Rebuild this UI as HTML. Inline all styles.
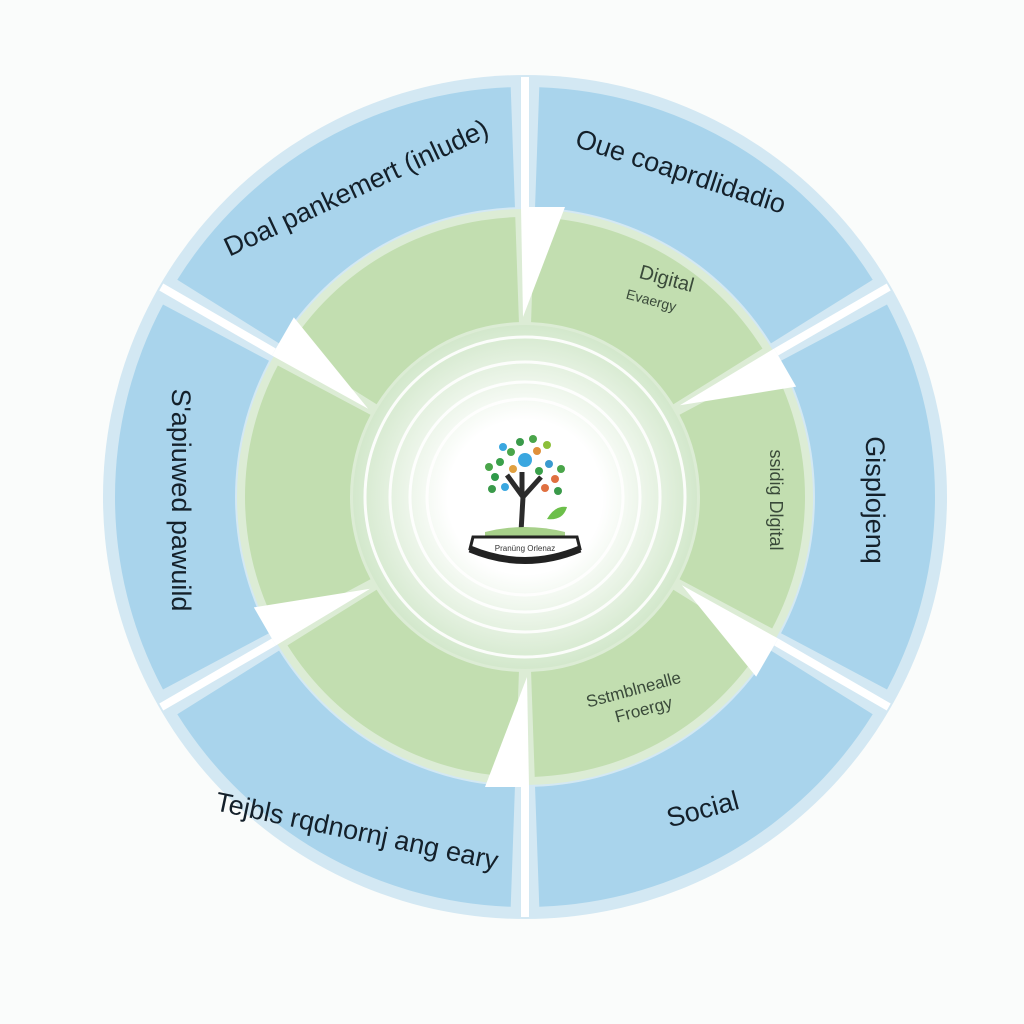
<!DOCTYPE html>
<html><head><meta charset="utf-8"><style>body{margin:0;background:#fff}svg{display:block}</style></head>
<body>
<svg width="1024" height="1024" viewBox="0 0 1024 1024" xmlns="http://www.w3.org/2000/svg" font-family="Liberation Sans, sans-serif">
<defs>
<path id="bs" d="M256 -136.2 L362 -192.5 A410 410 0 0 1 362 192.5 L256 136.2 A290 290 0 0 0 256 -136.2 Z"/>
<path id="gs" d="M154.5 -82.2 L247.2 -131.5 A280 280 0 0 1 247.2 131.5 L154.5 82.2 A175 175 0 0 0 154.5 -82.2 Z"/>
<polygon id="ar" points="290,-4 290,40 180,-2"/>
<radialGradient id="cg"><stop offset="0.45" stop-color="#fff"/><stop offset="1" stop-color="#d3e8cc"/></radialGradient>
</defs>
<rect width="1024" height="1024" fill="#fafcfb"/>
<g transform="translate(525,497)">
<circle r="422" fill="#d3e8f3"/>
<circle r="288" fill="#dcecd5"/>
<g fill="#a9d4ec">
<use href="#bs" transform="rotate(0)"/><use href="#bs" transform="rotate(60)"/><use href="#bs" transform="rotate(120)"/>
<use href="#bs" transform="rotate(180)"/><use href="#bs" transform="rotate(240)"/><use href="#bs" transform="rotate(300)"/>
</g>
<g fill="#c2deb0">
<use href="#gs" transform="rotate(0)"/><use href="#gs" transform="rotate(60)"/><use href="#gs" transform="rotate(120)"/>
<use href="#gs" transform="rotate(180)"/><use href="#gs" transform="rotate(240)"/><use href="#gs" transform="rotate(300)"/>
</g>
<g stroke="#fff" stroke-width="8">
<line x1="0" y1="-420" x2="0" y2="-290" transform="rotate(0)"/><line x1="0" y1="-420" x2="0" y2="-290" transform="rotate(60)"/>
<line x1="0" y1="-420" x2="0" y2="-290" transform="rotate(120)"/><line x1="0" y1="-420" x2="0" y2="-290" transform="rotate(180)"/>
<line x1="0" y1="-420" x2="0" y2="-290" transform="rotate(240)"/><line x1="0" y1="-420" x2="0" y2="-290" transform="rotate(300)"/>
</g>
<g fill="#fff">
<use href="#ar" transform="rotate(-90)"/><use href="#ar" transform="rotate(-30)"/><use href="#ar" transform="rotate(30)"/>
<use href="#ar" transform="rotate(90)"/><use href="#ar" transform="rotate(150)"/><use href="#ar" transform="rotate(210)"/>
</g>
<circle r="172" fill="url(#cg)"/>
<g fill="none" stroke="#fff" stroke-width="3" opacity="0.9">
<circle r="160"/><circle r="135"/><circle r="115"/><circle r="98"/>
</g>
<circle r="78" fill="#fff"/>
<path d="M-4 35 L-2 0 L-18 -22 M-2 0 L16 -20 M-3 -2 L-3 -25" stroke="#2b2b2b" stroke-width="5" fill="none"/>
<g>
<circle cx="0" cy="-37" r="7" fill="#3aa7e0"/>
<circle cx="-14" cy="-45" r="4" fill="#4aa54a"/><circle cx="12" cy="-46" r="4" fill="#e0903a"/>
<circle cx="-25" cy="-35" r="4" fill="#3aa04a"/><circle cx="24" cy="-33" r="4" fill="#3a9ad0"/>
<circle cx="-30" cy="-20" r="4" fill="#2f9a4a"/><circle cx="30" cy="-18" r="4" fill="#e07040"/>
<circle cx="-5" cy="-55" r="4" fill="#3a9a4a"/><circle cx="8" cy="-58" r="4" fill="#4aa54a"/>
<circle cx="-22" cy="-50" r="4" fill="#3aa7e0"/><circle cx="22" cy="-52" r="4" fill="#8cbf3a"/>
<circle cx="-12" cy="-28" r="4" fill="#e0a040"/><circle cx="14" cy="-26" r="4" fill="#3aa04a"/>
<circle cx="-36" cy="-30" r="4" fill="#4aa54a"/><circle cx="36" cy="-28" r="4" fill="#4aa54a"/>
<circle cx="-33" cy="-8" r="4" fill="#3a9a4a"/><circle cx="33" cy="-6" r="4" fill="#3a9a4a"/>
<circle cx="-20" cy="-10" r="4" fill="#3aa7e0"/><circle cx="20" cy="-9" r="4" fill="#e07040"/>
</g>
<path d="M22 22 Q30 8 42 10 Q38 24 22 22Z" fill="#6cbf4a"/>
<path d="M-40 35 Q0 25 40 35 L40 42 L-40 42Z" fill="#a7d08a"/>
<path d="M-52 40 L52 40 L55 52 Q0 75 -55 52Z" fill="#fff" stroke="#222" stroke-width="3"/>
<path d="M-55 52 Q0 75 55 52" stroke="#222" stroke-width="7" fill="none"/>
<text x="0" y="54" font-size="8" text-anchor="middle" fill="#333">Pranüng Orlenaz</text>
</g>
<g font-size="27" fill="#14202a" text-anchor="middle">
<text transform="translate(360,196) rotate(-25)">Doal pankemert (inlude)</text>
<text transform="translate(678,180) rotate(18)">Oue coaprdlidadio</text>
<text transform="translate(866,500) rotate(90)">Gisplojenq</text>
<text transform="translate(705,818) rotate(-15)">Social</text>
<text transform="translate(355,840) rotate(12)">Tejbls rqdnornj ang eary</text>
<text transform="translate(172,500) rotate(90)">S'apiuwed pawuild</text>
</g>
<g fill="#3a4a3a" text-anchor="middle">
<text font-size="20" transform="translate(665,285) rotate(15)">Digital</text>
<text font-size="14" transform="translate(650,305) rotate(15)">Evaergy</text>
<text font-size="18" transform="translate(770,500) rotate(90)">ssidig Dlgital</text>
<text font-size="17" transform="translate(635,695) rotate(-15)">Sstmblnealle</text>
<text font-size="17" transform="translate(645,715) rotate(-15)">Froergy</text>
</g>
</svg>
</body></html>
